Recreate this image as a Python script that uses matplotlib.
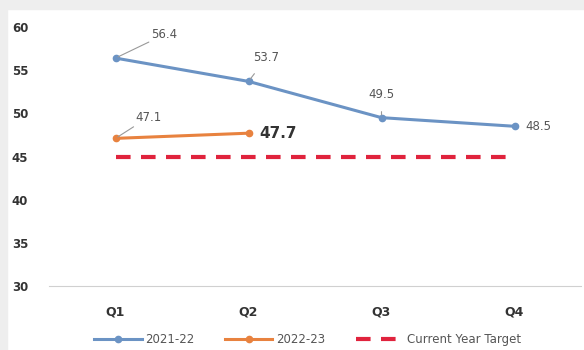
import matplotlib.pyplot as plt
from matplotlib.patches import Rectangle

quarters = ["Q1", "Q2", "Q3", "Q4"]
fy_2122 = [56.4, 53.7, 49.5, 48.5]
fy_2223 = [47.1, 47.7]
target = [45, 45, 45, 45]

blue = "#6b93c4"
orange = "#e8823f"
red = "#e0233d"


def plot_graph():
    fig = plt.figure(figsize=(5.84, 3.5), dpi=100)
    # grey frame strips on top and left
    fig.patches.append(Rectangle((0, 1 - 9 / 350), 1, 9 / 350, transform=fig.transFigure,
                                 color="#eeeeee", zorder=0))
    fig.patches.append(Rectangle((0, 0), 7 / 584, 1, transform=fig.transFigure,
                                 color="#eeeeee", zorder=0))
    ax = fig.add_axes([49 / 584, 1 - 286 / 350, 532 / 584, 259 / 350])

    x = list(range(len(quarters)))
    ax.plot(x, fy_2122, color=blue, lw=2.2, marker="o", ms=4.5, label="2021-22")
    ax.plot(x[:len(fy_2223)], fy_2223, color=orange, lw=2.2, marker="o", ms=4.5, label="2022-23")
    ax.plot(x, target, color=red, lw=3, ls=(0, (3.5, 2.5)), label="Current Year Target")

    lab = dict(fontsize=8.5, color="#555555")
    leader = dict(arrowstyle="-", color="#999999", lw=0.8, shrinkB=2)
    ax.annotate(f"{fy_2122[0]}", (0, fy_2122[0]), xytext=(26, 17), textcoords="offset points",
                **lab, va="center", ha="left", arrowprops=dict(leader, shrinkA=0))
    ax.annotate(f"{fy_2122[1]}", (1, fy_2122[1]), xytext=(13, 17), textcoords="offset points",
                **lab, va="center", ha="center", arrowprops=dict(leader, shrinkA=6))
    ax.annotate(f"{fy_2122[2]}", (2, fy_2122[2]), xytext=(0, 17), textcoords="offset points",
                **lab, va="center", ha="center", arrowprops=dict(leader, shrinkA=6))
    ax.annotate(f"{fy_2122[3]}", (3, fy_2122[3]), xytext=(8, 0), textcoords="offset points",
                **lab, va="center", ha="left")
    ax.annotate(f"{fy_2223[0]}", (0, fy_2223[0]), xytext=(14, 15), textcoords="offset points",
                **lab, va="center", ha="left", arrowprops=dict(leader, shrinkA=0))
    ax.annotate(f"{fy_2223[1]}", (1, fy_2223[1]), xytext=(8, 0), textcoords="offset points",
                fontsize=11, fontweight="bold", color="#333333", va="center", ha="left")

    ax.set_xlim(-0.5, 3.5)
    ax.set_ylim(30, 60)
    ax.set_yticks(range(30, 61, 5))
    ax.set_xticks(x)
    ax.set_xticklabels(quarters, fontsize=9, fontweight="bold", color="#333333")
    ax.tick_params(axis="y", labelsize=8.5, labelcolor="#333333", length=0, pad=15)
    ax.tick_params(axis="x", length=0, pad=14)
    for lbl in ax.get_yticklabels():
        lbl.set_fontweight("bold")
    for s in ["top", "right", "left"]:
        ax.spines[s].set_visible(False)
    ax.spines["bottom"].set_color("#d0d0d0")

    ax.legend(loc="upper center", bbox_to_anchor=(0.486, -0.14), ncol=3, frameon=False,
              fontsize=8.5, handlelength=4.0, handletextpad=0.3, columnspacing=2.6,
              labelcolor="#555555")

    plt.savefig("out.png")


if __name__ == "__main__":
    plot_graph()
